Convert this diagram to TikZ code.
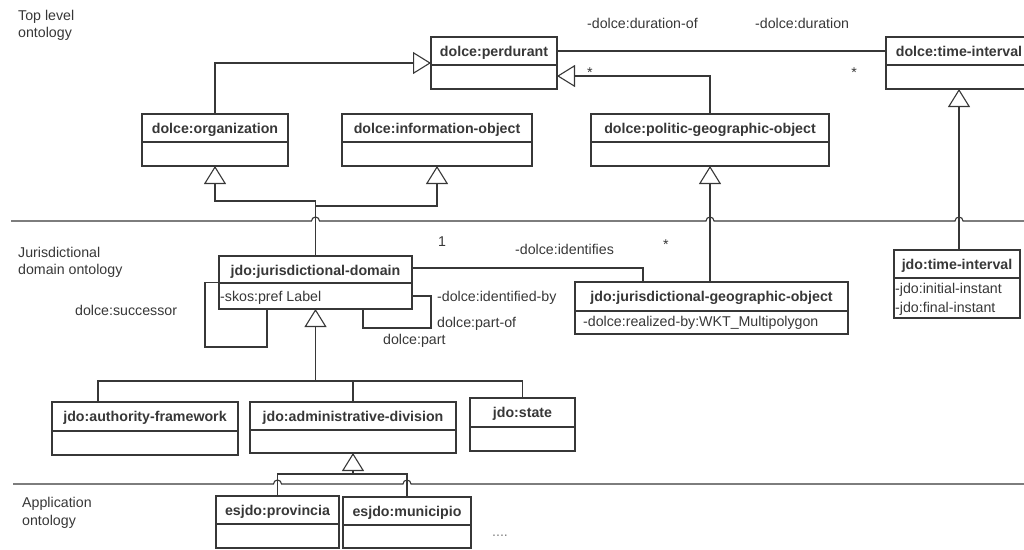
\documentclass[tikz,border=0pt]{standalone}
\usepackage{fontspec}
\setmainfont{Liberation Sans}
\usetikzlibrary{arrows.meta,calc}
\definecolor{ink}{RGB}{55,55,55}
\tikzset{
  cls/.style={draw=ink, line width=1.1pt, inner sep=0pt, outer sep=0pt, anchor=north west, rectangle},
  divline/.style={draw=ink, line width=1.6pt},
  ttl/.style={font=\fontsize{14.2}{17}\selectfont\bfseries, text=ink, inner sep=0pt, anchor=base},
  attr/.style={font=\fontsize{14.2}{17}\selectfont, text=ink, inner sep=0pt, anchor=base west},
  lbl/.style={font=\fontsize{14.2}{17}\selectfont, text=ink, inner sep=0pt, anchor=base west},
  conn/.style={draw=ink, line width=1.1pt},
  gen/.style={conn, -{Triangle[open, length=18pt, width=22pt, line width=1.1pt]}},
  sep/.style={draw=ink, line width=1.1pt},
}
\newcommand\umlcls[8]{% name, x1, y1, x2, y2, ydiv, title x, title
  \node[cls, minimum width={#4-#2}, minimum height={#5-#3}] (#1) at (#2,#3) {};
  \draw[divline] (#2,#6) -- (#4,#6);
  \node[ttl] at (#7,#3+19.5) {#8};
}
\begin{document}
\begin{tikzpicture}[x=1pt,y=-1pt]
\useasboundingbox (0,0) rectangle (1024,549);

% layer labels
\node[lbl] (l1a) at (18,20) {Top level};
\node[lbl] (l1b) at (18,37) {ontology};
\node[lbl] (l2a) at (18,257) {Jurisdictional};
\node[lbl] (l2b) at (18,274) {domain ontology};
\node[lbl] (l3a) at (22,507) {Application};
\node[lbl] (l3b) at (22,525) {ontology};

% separators with hops
\draw[sep] (11,221) -- (311.5,221) arc (180:0:4pt) -- (706,221) arc (180:0:4pt)
  -- (955,221) arc (180:0:4pt) -- (1024,221);
\draw[sep] (13,484) -- (273.5,484) arc (180:0:4pt) -- (403,484) arc (180:0:4pt) -- (1024,484);

% classes
\umlcls{perd}{431}{37}{557}{89}{65}{494}{dolce:perdurant}
\begin{scope}
  \clip (0,0) rectangle (1024,549);
  \umlcls{ti}{886}{37}{1032}{89}{65}{959}{dolce:time-interval}
\end{scope}
\umlcls{org}{142}{114}{288}{166}{142}{215}{dolce:organization}
\umlcls{io}{342}{114}{532}{166}{142}{437}{dolce:information-object}
\umlcls{pgo}{591}{114}{829}{166}{142}{710}{dolce:politic-geographic-object}
\umlcls{jd}{219}{256}{412}{309}{283}{315.5}{jdo:jurisdictional-domain}
\umlcls{jgo}{575}{282}{848}{334}{311}{711.5}{jdo:jurisdictional-geographic-object}
\umlcls{jti}{894}{250}{1020}{318}{278}{957}{jdo:time-interval}
\umlcls{af}{52}{402}{238}{455}{431}{145}{jdo:authority-framework}
\umlcls{ad}{250}{402}{456}{453}{430}{353}{jdo:administrative-division}
\umlcls{st}{470}{398}{575}{451}{427}{522.5}{jdo:state}
\umlcls{prov}{216}{496}{339}{548}{524}{277.5}{esjdo:provincia}
\umlcls{mun}{343}{497}{471}{548}{525}{407}{esjdo:municipio}

% attributes
\node[attr] (a1) at (220,301.5) {-skos:pref Label};
\node[attr] (a2) at (583,326.5) {-dolce:realized-by:WKT\_Multipolygon};
\node[attr] (a3) at (895,293) {-jdo:initial-instant};
\node[attr] (a4) at (895,312) {-jdo:final-instant};

% generalizations
\draw[gen] (org.north) |- (perd.west);
\draw[gen] (pgo.north) |- ([yshift=-13pt]perd.east);
\draw[gen] (ti.south |- jti.north) -- (ti.south);
\draw[gen] (jd.north) -- ++(0,-55) -| (org.south);
\draw[gen] (jd.north) -- ++(0,-50) -| (io.south);
\draw[gen] (pgo.south |- jgo.north) -- (pgo.south);
\coordinate (b1) at ([yshift=-72pt]jd.south);
\draw[gen] (b1) -- (jd.south);
\draw[conn] (b1) -| ([xshift=-47pt]af.north);
\draw[conn] (b1) -| (ad.north);
\draw[conn] (b1) -| (st.north);
\coordinate (b2) at ([yshift=-21pt]ad.south);
\draw[gen] (b2) -- (ad.south);
\draw[conn] (b2) -| (prov.north);
\draw[conn] (b2) -| (mun.north);

% associations
\draw[conn] ([yshift=12pt]perd.east) -- ([yshift=12pt]ti.west);
\draw[conn] ([yshift=14.5pt]jd.east) -| ([xshift=-68.5pt]jgo.north);
\draw[conn] (jd.west) -- ++(-14,0) -- ++(0,64.5) -| ([xshift=-48.5pt]jd.south);
\draw[conn] ([xshift=47.5pt]jd.south) -- ++(0,19) -- ++(68,0) |- ([yshift=-13.5pt]jd.east);

% association labels
\node[lbl] (t1) at (587,28) {-dolce:duration-of};
\node[lbl] (t2) at (755,28) {-dolce:duration};
\node[lbl, anchor=center] (t3) at (590,73) {*};
\node[lbl, anchor=center] (t4) at (854,73) {*};
\node[lbl, anchor=center] (t5) at (442,242) {1};
\node[lbl] (t6) at (515,254) {-dolce:identifies};
\node[lbl, anchor=center] (t7) at (666,245) {*};
\node[lbl] (t8) at (437,301.5) {-dolce:identified-by};
\node[lbl] (t9) at (437,327.5) {dolce:part-of};
\node[lbl] (t10) at (383,344.5) {dolce:part};
\node[lbl] (t11) at (75,315) {dolce:successor};
\node[lbl, anchor=center, text=gray] (t12) at (500,536) {....};
\end{tikzpicture}
\end{document}
